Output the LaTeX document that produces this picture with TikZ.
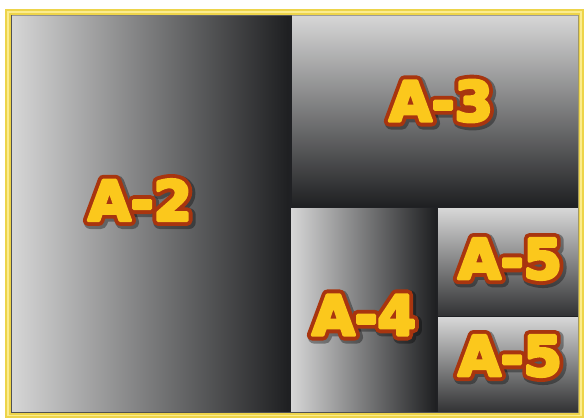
\documentclass[tikz,border=0pt]{standalone}
\usepackage{fontspec}
\newfontfamily\fillfont{DejaVu Sans Bold}[FakeBold=6]
\newfontfamily\edgefont{DejaVu Sans Bold}[FakeBold=20]
\newfontfamily\shadefont{DejaVu Sans Bold}[FakeBold=24]
\newcommand{\rjoin}{\special{pdf:literal direct 1 j 1 J}}
\definecolor{framey}{HTML}{EDD44A}
\definecolor{framel}{HTML}{FBEC8E}
\definecolor{darkbg}{HTML}{202124}
\definecolor{lightg}{HTML}{D6D6D6}
\definecolor{darkg}{HTML}{1E1F21}
\definecolor{txty}{HTML}{FBC81C}
\definecolor{txto}{HTML}{A8350F}
\tikzset{
  lblfill/.style={inner sep=0pt, text=txty, font=\fillfont\fontsize{55}{55}\selectfont},
  lbledge/.style={inner sep=0pt, text=txto, font=\edgefont\fontsize{55}{55}\selectfont},
  lblshd/.style={inner sep=0pt, text=black, text opacity=0.35, font=\shadefont\fontsize{55}{55}\selectfont},
}
\begin{document}
\begin{tikzpicture}[x=1pt,y=-1pt]
\useasboundingbox (0,0) rectangle (584,419);
\fill[white] (0,0) rectangle (584,419);
% dark background
\fill[darkbg] (10,14) rectangle (580,414);
% panels
\shade[left color=lightg, right color=darkg] (12,16) rectangle (289,412);
\shade[top color=lightg, bottom color=darkg] (292,16) rectangle (579,207);
\shade[left color=lightg, right color=darkg] (291,209) rectangle (436,412);
\shade[top color=lightg, bottom color=darkg!80!gray] (438,209) rectangle (579,316);
\shade[top color=lightg, bottom color=darkg!80!gray] (438,318) rectangle (579,412);
% frame
\draw[framey, line width=5.5pt] (8,12) rectangle (581,415.5);
\draw[framel, line width=1.6pt] (8,12) rectangle (581,415.5);
\draw[black!55, line width=0.6pt, opacity=0.6] (11.2,15.2) rectangle (578,412.5);
% label shadows
\node[lblshd] (s2) at (142,202) {\rjoin A-2};
\node[lblshd] (s3) at (443,103) {\rjoin A-3};
\node[lblshd] (s4) at (366,317) {\rjoin A-4};
\node[lblshd] (s5a) at (512,261) {\rjoin A-5};
\node[lblshd] (s5b) at (512,358) {\rjoin A-5};
% label outlines
\node[lbledge] (e2) at (140,200) {\rjoin A-2};
\node[lbledge] (e3) at (441,101) {\rjoin A-3};
\node[lbledge] (e4) at (364,315) {\rjoin A-4};
\node[lbledge] (e5a) at (510,259) {\rjoin A-5};
\node[lbledge] (e5b) at (510,356) {\rjoin A-5};
% labels
\node[lblfill] (a2) at (140,200) {\rjoin A-2};
\node[lblfill] (a3) at (441,101) {\rjoin A-3};
\node[lblfill] (a4) at (364,315) {\rjoin A-4};
\node[lblfill] (a5a) at (510,259) {\rjoin A-5};
\node[lblfill] (a5b) at (510,356) {\rjoin A-5};
\end{tikzpicture}
\end{document}
